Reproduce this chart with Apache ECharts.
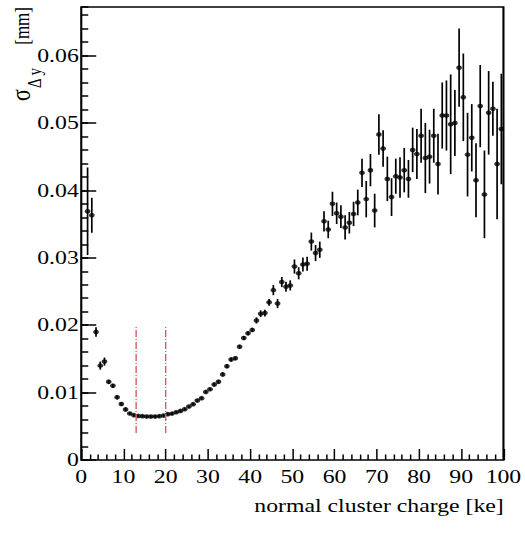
<!DOCTYPE html>
<html><head><meta charset="utf-8">
<script src="https://cdn.jsdelivr.net/npm/echarts@6/dist/echarts.min.js"></script>
<style>
html,body{margin:0;padding:0;background:#fff;overflow:hidden}
#wrap{width:525px;height:535px;overflow:hidden;position:relative}
#c{width:420px;height:535px;transform:scaleX(1.25);transform-origin:0 0}
</style></head><body><div id="wrap"><div id="c"></div></div>
<script>
// bin centres (normal cluster charge, ke)
const binCenters = [1.5,2.5,3.5,4.5,5.5,6.5,7.5,8.5,9.5,10.5,11.5,12.5,13.5,14.5,15.5,16.5,17.5,18.5,19.5,20.5,
  21.5,22.5,23.5,24.5,25.5,26.5,27.5,28.5,29.5,30.5,31.5,32.5,33.5,34.5,35.5,36.5,37.5,38.5,39.5,40.5,
  41.5,42.5,43.5,44.5,45.5,46.5,47.5,48.5,49.5,50.5,51.5,52.5,53.5,54.5,55.5,56.5,57.5,58.5,59.5,60.5,
  61.5,62.5,63.5,64.5,65.5,66.5,67.5,68.5,69.5,70.5,71.5,72.5,73.5,74.5,75.5,76.5,77.5,78.5,79.5,80.5,
  81.5,82.5,83.5,84.5,85.5,86.5,87.5,88.5,89.5,90.5,91.5,92.5,93.5,94.5,95.5,96.5,97.5,98.5,99.5];
// sigma_{Delta y} [mm]
const sigmaValues = [0.0369,0.0363,0.0190,0.0140,0.0146,0.0116,0.0110,0.0093,0.0083,0.0075,
  0.0069,0.00665,0.00654,0.0065,0.00644,0.00644,0.00644,0.0065,0.00659,0.0068,
  0.00688,0.00709,0.00728,0.00754,0.00792,0.00828,0.00881,0.00917,0.0101,0.0105,
  0.0112,0.0116,0.0127,0.0139,0.0149,0.0151,0.0168,0.0181,0.0188,0.0193,
  0.0207,0.0217,0.0218,0.0234,0.0252,0.0232,0.0264,0.0257,0.0259,0.0287,
  0.0277,0.0290,0.0291,0.0324,0.0307,0.0312,0.0354,0.0342,0.0380,0.0366,
  0.0361,0.0345,0.0352,0.0365,0.0382,0.0426,0.0387,0.0430,0.0370,0.0483,
  0.0462,0.0417,0.0390,0.0421,0.0419,0.0430,0.0417,0.0460,0.0454,0.0481,
  0.0448,0.0450,0.0481,0.0439,0.0511,0.0511,0.0498,0.0500,0.0582,0.0538,
  0.0453,0.0478,0.0415,0.0525,0.0394,0.0515,0.0521,0.0439,0.0491];
// statistical errors
const sigmaErrors = [0.0065,0.0026,0.0007,0.0006,0.0006,0.0003,0.0003,0.0003,0.0003,0.0003,
  0.0002,0.0002,0.0002,0.0002,0.0002,0.0002,0.0002,0.0002,0.0002,0.0002,
  0.0002,0.0002,0.0002,0.0002,0.0002,0.0002,0.0002,0.0002,0.0002,0.0002,
  0.0003,0.0003,0.0003,0.0003,0.0003,0.0003,0.0003,0.0003,0.0003,0.0003,
  0.00045,0.0005,0.0005,0.0005,0.00075,0.00067,0.00075,0.00075,0.00075,0.00104,
  0.0009,0.00104,0.00104,0.00134,0.0012,0.0012,0.0015,0.0013,0.0018,0.0016,
  0.0017,0.0018,0.0016,0.0018,0.0019,0.0021,0.0027,0.0024,0.0025,0.0030,
  0.0027,0.0033,0.0028,0.0026,0.0030,0.0033,0.0028,0.0033,0.0037,0.0040,
  0.0052,0.0040,0.0040,0.0045,0.0049,0.0052,0.0074,0.0049,0.0058,0.0065,
  0.0062,0.0050,0.0055,0.0061,0.0065,0.0062,0.0040,0.0082,0.0082];
const xTickLabels = ['0','10','20','30','40','50','60','70','80','90','100'];
const yTickLabels = ['0','0.01','0.02','0.03','0.04','0.05','0.06'];
const cutLines = [13, 20];
const cutRange = [0.004, 0.02];
const xTitle = 'normal cluster charge [ke]';
const yTitleParts = ['\u03C3', '\u0394 y', '[mm]'];

const chart = echarts.init(document.getElementById('c'), null, {renderer: 'svg'});
const FONT = '"Liberation Serif", "Times New Roman", serif';

const errData = binCenters.map((x, i) => [x, sigmaValues[i] - sigmaErrors[i], sigmaValues[i] + sigmaErrors[i]]);
const ptData = binCenters.map((x, i) => [x, sigmaValues[i]]);

const series = [
  {
    type: 'custom', xAxisIndex: 0, yAxisIndex: 0, data: errData, z: 3,
    renderItem: function (params, api) {
      const p1 = api.coord([api.value(0), api.value(1)]);
      const p2 = api.coord([api.value(0), api.value(2)]);
      return {type: 'line', shape: {x1: p1[0], y1: p1[1], x2: p2[0], y2: p2[1]},
        style: {stroke: '#000', lineWidth: 1.35}};
    },
    silent: true
  },
  {
    type: 'scatter', xAxisIndex: 0, yAxisIndex: 0, data: ptData, symbol: 'circle', symbolSize: 4.6,
    itemStyle: {color: '#000'}, z: 4, silent: true
  }
];
cutLines.forEach(c => {
  series.push({
    type: 'line', xAxisIndex: 0, yAxisIndex: 0, data: [[c, cutRange[0]], [c, cutRange[1]]],
    symbol: 'none', silent: true, z: 5,
    lineStyle: {color: '#d65a66', width: 1.1, type: [7, 2, 1, 2]}
  });
});

const option = {
  animation: false,
  backgroundColor: '#fff',
  grid: {left: 65, right: 17, top: 7, bottom: 75, show: true, borderColor: '#000', borderWidth: 1.7, backgroundColor: 'transparent'},
  xAxis: [{
    type: 'value', min: 0, max: 100, interval: 10,
    axisLine: {show: false},
    axisTick: {show: true, inside: true, length: 11, lineStyle: {color: '#000', width: 1.2}},
    minorTick: {show: true, splitNumber: 5, length: 5.5, lineStyle: {color: '#000', width: 1.2}},
    splitLine: {show: false},
    axisLabel: {color: '#000', fontFamily: FONT, fontSize: 19, margin: 7,
      formatter: v => xTickLabels[Math.round(v / 10)] || ''}
  }],
  yAxis: [{
    type: 'value', min: 0, max: 0.0672, interval: 0.01, position: 'left',
    axisLine: {show: false},
    axisTick: {show: true, inside: true, length: 12, lineStyle: {color: '#000', width: 1.5}},
    splitLine: {show: false},
    axisLabel: {color: '#000', fontFamily: FONT, fontSize: 19, margin: 2, showMaxLabel: false,
      formatter: v => { const k = Math.round(v / 0.01); return Math.abs(v - k * 0.01) < 1e-9 ? (yTickLabels[k] || '') : ''; }}
  }, {
    type: 'value', min: 0, max: 0.0672, interval: 0.002, position: 'left',
    axisLine: {show: false},
    axisTick: {show: true, inside: true, length: 5.6, lineStyle: {color: '#000', width: 1.5}},
    splitLine: {show: false},
    axisLabel: {show: false}
  }],
  graphic: [
    {type: 'text', x: 403, y: 506, silent: true,
      style: {text: xTitle, font: '19px ' + FONT, fill: '#000', align: 'right', verticalAlign: 'middle', textAlign: 'right', textVerticalAlign: 'middle'}},
    {type: 'text', x: 16.6, y: 101, rotation: Math.PI / 2, silent: true,
      style: {text: yTitleParts[0], font: '22px ' + FONT, fill: '#000', align: 'left', verticalAlign: 'middle', textAlign: 'left', textVerticalAlign: 'middle'}},
    {type: 'text', x: 27.6, y: 88, rotation: Math.PI / 2, silent: true,
      style: {text: yTitleParts[1], font: '15px ' + FONT, fill: '#000', align: 'left', verticalAlign: 'middle', textAlign: 'left', textVerticalAlign: 'middle'}},
    {type: 'text', x: 17.8, y: 7, rotation: Math.PI / 2, silent: true,
      style: {text: yTitleParts[2], font: '17px ' + FONT, fill: '#000', align: 'right', verticalAlign: 'middle', textAlign: 'right', textVerticalAlign: 'middle'}}
  ],
  series: series
};
chart.setOption(option);
</script></body></html>
